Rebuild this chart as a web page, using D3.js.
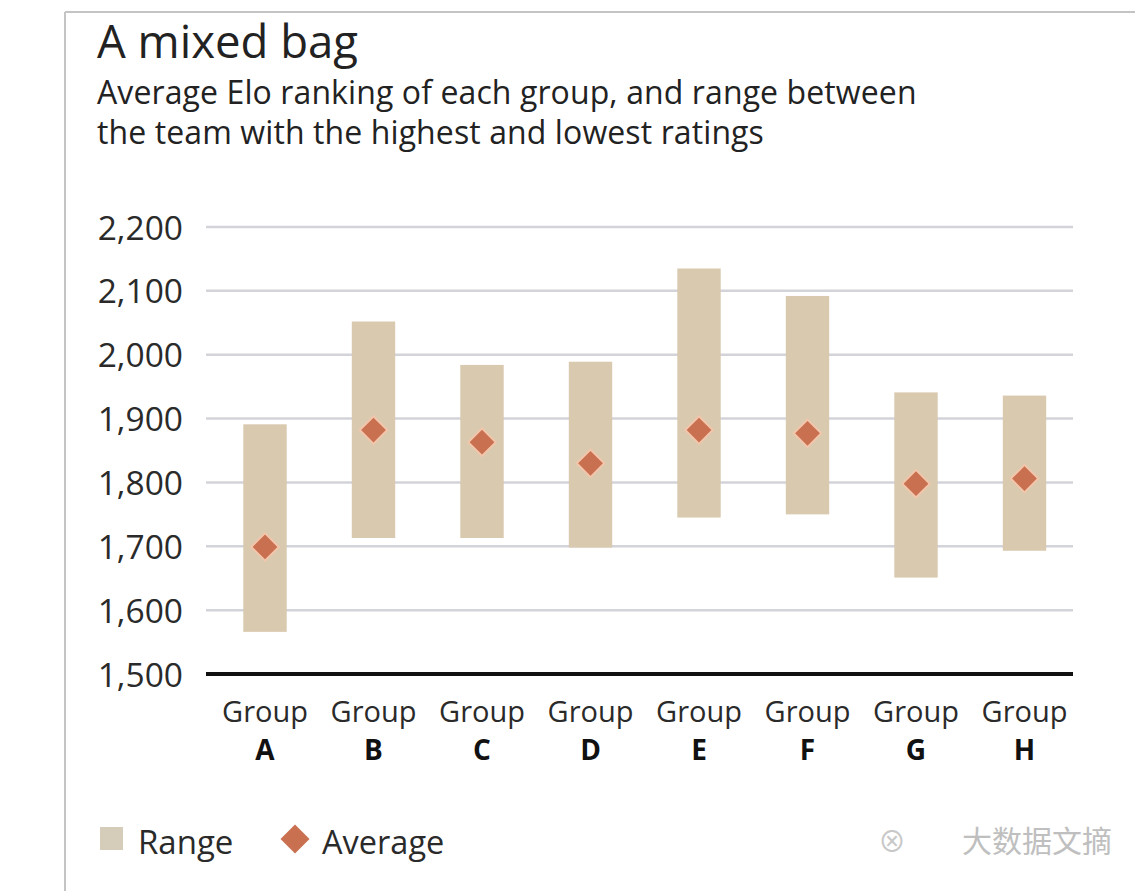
<!DOCTYPE html>
<html>
<head>
<meta charset="utf-8">
<script src="https://cdn.jsdelivr.net/npm/d3@7/dist/d3.min.js"></script>
<style>
  html, body { margin: 0; padding: 0; background: #fff; }
  svg { display: block; font-family: "Open Sans", "Noto Sans", sans-serif; }
</style>
</head>
<body>
<svg id="chart" width="1135" height="891"></svg>
<script>
// ---- data ----
const groups = ["A", "B", "C", "D", "E", "F", "G", "H"];
const rangeLow  = [1566, 1713, 1713, 1698, 1745, 1750, 1651, 1693];
const rangeHigh = [1891, 2052, 1984, 1989, 2135, 2092, 1941, 1936];
const average   = [1699, 1882, 1863, 1830, 1882, 1877, 1798, 1806];
const yTicks    = [1500, 1600, 1700, 1800, 1900, 2000, 2100, 2200];

const title = "A mixed bag";
const subtitle = ["Average Elo ranking of each group, and range between",
                  "the team with the highest and lowest ratings"];

// ---- layout ----
const svg = d3.select("#chart");
const W = 1135, H = 891;
const plotLeft = 206, plotRight = 1073;

const y = d3.scaleLinear().domain([1500, 2200]).range([674, 227]);
const x = d3.scaleBand().domain(groups).range([210.75, 1078.75])
  .paddingInner(0.6).paddingOuter(0.3);

const rangeColor = "#d9c9ae";
const avgColor = "#c8704f";

// frame
svg.append("line").attr("x1", 65).attr("x2", W).attr("y1", 12).attr("y2", 12)
  .attr("stroke", "#c4c4c4").attr("stroke-width", 2);
svg.append("line").attr("x1", 65).attr("x2", 65).attr("y1", 12).attr("y2", H)
  .attr("stroke", "#c4c4c4").attr("stroke-width", 2);

// title
svg.append("text").attr("x", 97).attr("y", 58)
  .attr("font-size", 45.5).attr("fill", "#222").text(title);
svg.append("g").selectAll("text").data(subtitle).join("text")
  .attr("x", 97).attr("y", (d, i) => 104 + i * 40)
  .attr("font-size", 32).attr("letter-spacing", "0.1").attr("fill", "#222").text(d => d);

// y axis labels
const yAxis = d3.axisLeft(y).tickValues(yTicks)
  .tickFormat(d3.format(",")).tickSize(0).tickPadding(0);
const gAxis = svg.append("g").attr("transform", `translate(183,0)`).call(yAxis);
gAxis.select(".domain").remove();
gAxis.selectAll("text").attr("font-size", 33.5).attr("fill", "#2a2a2a")
  .attr("font-family", "'Open Sans', sans-serif").attr("dy", "0.36em");

// gridlines
svg.append("g").selectAll("line").data(yTicks.filter(t => t !== 1500)).join("line")
  .attr("x1", plotLeft).attr("x2", plotRight)
  .attr("y1", d => y(d)).attr("y2", d => y(d))
  .attr("stroke", "#d3d3da").attr("stroke-width", 2.5);

// range bars
svg.append("g").selectAll("rect").data(groups).join("rect")
  .attr("x", d => x(d))
  .attr("width", x.bandwidth())
  .attr("y", (d, i) => y(rangeHigh[i]))
  .attr("height", (d, i) => y(rangeLow[i]) - y(rangeHigh[i]))
  .attr("fill", rangeColor);

// baseline axis
svg.append("line").attr("x1", plotLeft).attr("x2", plotRight)
  .attr("y1", y(1500)).attr("y2", y(1500))
  .attr("stroke", "#111").attr("stroke-width", 4);

// average diamonds
const diamond = d3.symbol().type(d3.symbolSquare).size(380);
svg.append("g").selectAll("path").data(groups).join("path")
  .attr("d", diamond)
  .attr("transform", (d, i) => `translate(${x(d) + x.bandwidth() / 2},${y(average[i])}) rotate(45)`)
  .attr("fill", avgColor)
  .attr("stroke", "#f2c6ac").attr("stroke-width", 2);

// x labels
const xl = svg.append("g").selectAll("g").data(groups).join("g")
  .attr("transform", d => `translate(${x(d) + x.bandwidth() / 2},0)`);
xl.append("text").attr("y", 722).attr("text-anchor", "middle")
  .attr("font-size", 29).attr("fill", "#2a2a2a").text("Group");
xl.append("text").attr("y", 760).attr("text-anchor", "middle")
  .attr("font-size", 28).attr("font-weight", "bold").attr("fill", "#111").text(d => d);

// legend
svg.append("rect").attr("x", 100).attr("y", 827).attr("width", 23).attr("height", 23)
  .attr("fill", "#d5cdb9");
svg.append("text").attr("x", 138).attr("y", 854).attr("font-size", 33)
  .attr("fill", "#2a2a2a").text("Range");
svg.append("path").attr("d", d3.symbol().type(d3.symbolSquare).size(420))
  .attr("transform", "translate(295,839) rotate(45)")
  .attr("fill", avgColor);
svg.append("text").attr("x", 322).attr("y", 854).attr("font-size", 32.5)
  .attr("fill", "#2a2a2a").text("Average");

// watermark
svg.append("text").attr("x", 1112).attr("y", 852).attr("text-anchor", "end")
  .attr("font-family", "'Noto Sans CJK SC', sans-serif")
  .attr("font-size", 30).attr("fill", "#b4b4b4").attr("opacity", 0.85)
  .text("大数据文摘");
svg.append("text").attr("x", 892).attr("y", 852).attr("text-anchor", "middle")
  .attr("font-family", "'Noto Sans CJK SC', sans-serif")
  .attr("font-size", 28).attr("fill", "#c8c8c8").text("⊗");
</script>
</body>
</html>
